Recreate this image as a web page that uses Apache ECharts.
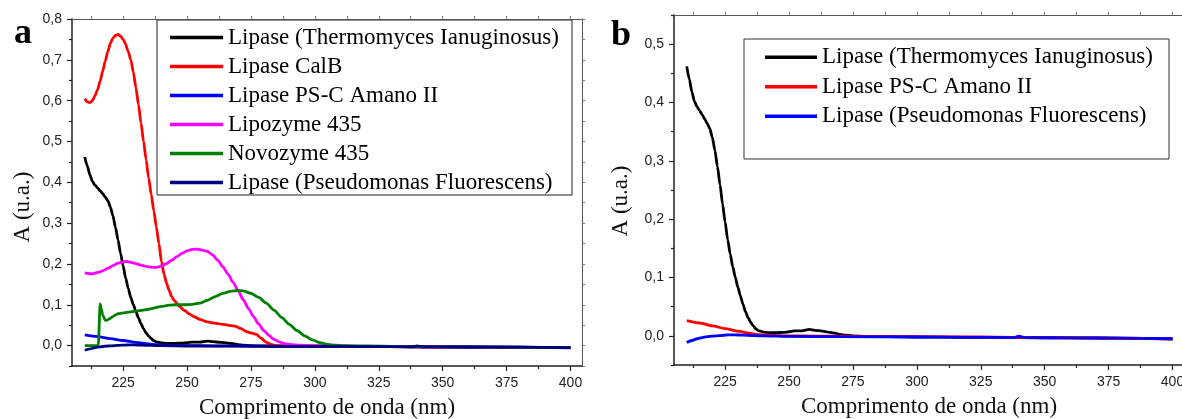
<!DOCTYPE html>
<html>
<head>
<meta charset="utf-8">
<script src="https://cdn.jsdelivr.net/npm/echarts@6/dist/echarts.min.js"></script>
<style>
html, body { margin: 0; background: #fff; }
#chart { width: 1182px; height: 419px; }
</style>
</head>
<body>
<div id="chart"></div>
<script>
// Lipase (Thermomyces Ianuginosus)
const tlNm = [210, 211, 212, 213, 214, 215, 216, 217, 218, 219, 220, 221, 222, 223, 224, 225, 226, 227, 228, 229, 230, 231, 232, 233, 234, 235, 236, 237, 238, 240, 242, 245, 248, 250, 252, 255, 258, 260, 263, 266, 268, 270, 272, 275, 280, 290, 300, 320, 340, 360, 380, 400]
const tlA = [0.462, 0.44, 0.418, 0.402, 0.393, 0.386, 0.379, 0.372, 0.364, 0.355, 0.34, 0.318, 0.29, 0.259, 0.226, 0.195, 0.165, 0.14, 0.118, 0.1, 0.083, 0.068, 0.054, 0.041, 0.031, 0.023, 0.017, 0.012, 0.009, 0.0065, 0.0055, 0.0055, 0.006, 0.007, 0.0085, 0.0085, 0.011, 0.0095, 0.008, 0.006, 0.0045, 0.0025, 0.0012, 0, -0.001, -0.0015, -0.002, -0.0025, -0.003, -0.0035, -0.004, -0.005]

// Lipase CalB
const calbNm = [210, 211, 212, 213, 214, 215, 216, 217, 218, 219, 220, 221, 222, 223, 224, 225, 226, 227, 228, 229, 230, 231, 232, 233, 234, 235, 236, 237, 238, 239, 240, 241, 242, 243, 244, 245, 247, 249, 251, 253, 255, 258, 261, 264, 267, 269, 271, 273, 275, 277, 279, 281, 283, 285, 290, 300, 320, 340, 360, 380, 400]
const calbA = [0.605, 0.597, 0.595, 0.6, 0.612, 0.627, 0.648, 0.672, 0.697, 0.72, 0.74, 0.753, 0.76, 0.762, 0.758, 0.75, 0.738, 0.72, 0.7, 0.67, 0.632, 0.59, 0.545, 0.5, 0.455, 0.41, 0.37, 0.33, 0.29, 0.25, 0.205, 0.175, 0.153, 0.135, 0.12, 0.11, 0.096, 0.086, 0.077, 0.07, 0.064, 0.058, 0.055, 0.052, 0.049, 0.047, 0.042, 0.035, 0.031, 0.028, 0.018, 0.008, 0.002, 0, -0.001, -0.0015, -0.0025, -0.003, -0.004, -0.0045, -0.005]

// Lipozyme 435
const lipozymeNm = [210, 212, 213, 215, 217, 219, 221, 223, 225, 226, 228, 230, 232, 234, 236, 238, 240, 242, 244, 246, 248, 250, 252, 254, 256, 258, 260, 262, 264, 266, 268, 270, 272, 274, 276, 278, 280, 282, 284, 286, 288, 290, 294, 300, 320, 340, 360, 380, 400]
const lipozymeA = [0.178, 0.176, 0.176, 0.179, 0.183, 0.189, 0.196, 0.202, 0.205, 0.206, 0.204, 0.201, 0.197, 0.194, 0.192, 0.1915, 0.195, 0.201, 0.209, 0.218, 0.226, 0.232, 0.2355, 0.2365, 0.234, 0.2305, 0.222, 0.209, 0.193, 0.175, 0.155, 0.134, 0.112, 0.091, 0.071, 0.053, 0.037, 0.025, 0.015, 0.009, 0.005, 0.003, 0.001, 0, -0.002, -0.003, -0.0035, -0.0045, -0.005]

// Novozyme 435
const novozymeNm = [210, 215, 215.3, 216, 216.5, 217, 218, 219, 220, 221, 222, 223, 225, 227, 229, 231, 233, 235, 237, 240, 243, 246, 249, 252, 255, 258, 261, 264, 267, 270, 272, 275, 278, 281, 284, 287, 290, 293, 296, 299, 302, 305, 308, 312, 320, 340, 360, 380, 400]
const novozymeA = [0, 0, 0.002, 0.102, 0.09, 0.075, 0.062, 0.063, 0.067, 0.071, 0.075, 0.078, 0.08, 0.082, 0.0835, 0.085, 0.087, 0.089, 0.092, 0.096, 0.099, 0.1, 0.1, 0.101, 0.104, 0.111, 0.12, 0.128, 0.133, 0.135, 0.134, 0.128, 0.118, 0.104, 0.087, 0.069, 0.052, 0.037, 0.024, 0.014, 0.007, 0.003, 0.001, 0, -0.001, -0.003, -0.0035, -0.0045, -0.005]

// Lipase PS-C Amano II
const pscNm = [210, 215, 220, 225, 230, 235, 238, 242, 250, 260, 275, 300, 325, 350, 375, 400]
const pscA = [0.026, 0.022, 0.017, 0.0125, 0.008, 0.004, 0.002, 0.001, 0, -0.0005, -0.001, -0.0015, -0.002, -0.003, -0.004, -0.0055]

// Lipase (Pseudomonas Fluorescens)
const pfNm = [210, 212, 214, 216, 218, 220, 223, 226, 229, 232, 236, 240, 250, 270, 300, 320, 338, 340, 342, 360, 380, 400]
const pfA = [-0.0115, -0.008, -0.005, -0.003, -0.0015, -0.0005, 0.0005, 0.0015, 0.0017, 0.0012, 0.0005, -0.0002, -0.001, -0.0015, -0.002, -0.0025, -0.003, -0.0005, -0.003, -0.0035, -0.004, -0.005]

// ticks
const xMajor = [225, 250, 275, 300, 325, 350, 375, 400]
const xMinor = [212.5, 237.5, 262.5, 287.5, 312.5, 337.5, 362.5, 387.5]
const yMajorA = [0, 0.1, 0.2, 0.3, 0.4, 0.5, 0.6, 0.7, 0.8]
const yMinorA = [-0.05, 0.05, 0.15, 0.25, 0.35, 0.45, 0.55, 0.65, 0.75]
const yMajorB = [0, 0.1, 0.2, 0.3, 0.4, 0.5]
const yMinorB = [-0.05, 0.05, 0.15, 0.25, 0.35, 0.45, 0.55]

const chart = echarts.init(document.getElementById('chart'))

const axisColor = '#222'
const serif = 'Liberation Serif'
const sans = 'Liberation Sans'

function pairs(xs, ys) {
    return xs.map((x, i) => [x, ys[i]])
}

function xAxes(grid) {
    const base = {
        gridIndex: grid, type: 'value', min: 205, max: 404.5,
        splitLine: { show: false }
    }
    return [
        Object.assign({}, base, {
            position: 'bottom',
            axisLine: { onZero: false, lineStyle: { color: axisColor, width: 1.5 } },
            axisTick: { customValues: xMajor, length: 5, lineStyle: { color: axisColor, width: 1.2 } },
            axisLabel: { customValues: xMajor, margin: 10, color: '#222', fontFamily: sans, fontSize: 14 },
            name: 'Comprimento de onda (nm)',
            nameLocation: 'middle',
            nameGap: 30,
            nameTextStyle: { fontFamily: serif, fontSize: 23, color: '#111' }
        }),
        Object.assign({}, base, {
            position: 'bottom',
            axisLine: { show: false, onZero: false },
            axisTick: { customValues: xMinor, length: 3, lineStyle: { color: axisColor, width: 1.2 } },
            axisLabel: { show: false }
        }),
        Object.assign({}, base, {
            position: 'top',
            axisLine: { onZero: false, lineStyle: { color: '#555', width: 1 } },
            axisTick: { customValues: xMajor.concat(xMinor), length: 3, lineStyle: { color: '#777' } },
            axisLabel: { show: false }
        })
    ]
}

function yAxes(grid, max, major, minor) {
    const base = {
        gridIndex: grid, type: 'value', min: -0.05, max: max,
        splitLine: { show: false }
    }
    return [
        Object.assign({}, base, {
            position: 'left',
            axisLine: { onZero: false, lineStyle: { color: axisColor, width: 1.5 } },
            axisTick: { customValues: major, length: 5, lineStyle: { color: axisColor, width: 1.2 } },
            axisLabel: {
                customValues: major, margin: 10, color: '#222', fontFamily: sans, fontSize: 14,
                formatter: v => v.toFixed(1).replace('.', ',')
            }
        }),
        Object.assign({}, base, {
            position: 'left',
            axisLine: { show: false, onZero: false },
            axisTick: { customValues: minor, length: 3, lineStyle: { color: axisColor, width: 1.2 } },
            axisLabel: { show: false }
        }),
        Object.assign({}, base, {
            position: 'right',
            axisLine: { onZero: false, lineStyle: { color: '#555', width: 1 } },
            axisTick: { customValues: major.concat(minor), length: 3, lineStyle: { color: '#777' } },
            axisLabel: { show: false }
        })
    ]
}

function line(name, xs, ys, color, axis) {
    return {
        name: name,
        type: 'line',
        xAxisIndex: axis,
        yAxisIndex: axis,
        data: pairs(xs, ys),
        showSymbol: false,
        smooth: 0.25,
        smoothMonotone: 'x',
        lineStyle: { color: color, width: 2.8 },
        itemStyle: { color: color },
        emphasis: { disabled: true }
    }
}

const legendText = { fontFamily: serif, fontSize: 23, color: '#000' }

const option = {
    animation: false,
    grid: [
        { left: 72, top: 19, width: 510, height: 347, containLabel: false, outerBoundsMode: 'none' },
        { left: 674, top: 15, width: 510, height: 350, containLabel: false, outerBoundsMode: 'none' }
    ],
    xAxis: xAxes(0).concat(xAxes(1)),
    yAxis: yAxes(0, 0.8, yMajorA, yMinorA).concat(yAxes(1, 0.55, yMajorB, yMinorB)),
    legend: [
        {
            data: ['Lipase (Thermomyces Ianuginosus)', 'Lipase CalB', 'Lipase PS-C Amano II',
                'Lipozyme 435', 'Novozyme 435', 'Lipase (Pseudomonas Fluorescens)'],
            orient: 'vertical', left: 170, top: 23, padding: 0, itemGap: 0,
            icon: 'rect', itemWidth: 53, itemHeight: 3.5,
            textStyle: Object.assign({ lineHeight: 29 }, legendText),
            selectedMode: false
        },
        {
            data: ['b Lipase (Thermomyces Ianuginosus)', 'b Lipase PS-C Amano II', 'b Lipase (Pseudomonas Fluorescens)'],
            formatter: name => name.slice(2),
            orient: 'vertical', left: 765, top: 42.5, padding: 0, itemGap: 0,
            icon: 'rect', itemWidth: 52, itemHeight: 3.5,
            textStyle: Object.assign({ lineHeight: 29.5 }, legendText),
            selectedMode: false
        }
    ],
    graphic: [
        { type: 'rect', shape: { x: 157, y: 20, width: 415, height: 175 }, style: { fill: 'none', stroke: '#222', lineWidth: 1 } },
        { type: 'rect', shape: { x: 744, y: 39, width: 425, height: 120 }, style: { fill: 'none', stroke: '#333', lineWidth: 1 } },
        { type: 'text', x: 14, y: 34, style: { text: 'a', font: 'bold 36px "Liberation Serif"', fill: '#000', verticalAlign: 'middle', textVerticalAlign: 'middle' } },
        { type: 'text', x: 611, y: 36, style: { text: 'b', font: 'bold 36px "Liberation Serif"', fill: '#000', verticalAlign: 'middle', textVerticalAlign: 'middle' } },
        { type: 'text', x: 23, y: 207, rotation: Math.PI / 2, style: { text: 'A (u.a.)', font: '23px "Liberation Serif"', fill: '#111', align: 'center', textAlign: 'center', verticalAlign: 'middle', textVerticalAlign: 'middle' } },
        { type: 'text', x: 621, y: 201, rotation: Math.PI / 2, style: { text: 'A (u.a.)', font: '23px "Liberation Serif"', fill: '#111', align: 'center', textAlign: 'center', verticalAlign: 'middle', textVerticalAlign: 'middle' } }
    ],
    series: [
        line('Lipase (Thermomyces Ianuginosus)', tlNm, tlA, '#000000', 0),
        line('Lipase CalB', calbNm, calbA, '#ff0000', 0),
        line('Lipase PS-C Amano II', pscNm, pscA, '#0000ff', 0),
        line('Lipozyme 435', lipozymeNm, lipozymeA, '#ff00ff', 0),
        line('Novozyme 435', novozymeNm, novozymeA, '#008000', 0),
        line('Lipase (Pseudomonas Fluorescens)', pfNm, pfA, '#000080', 0),
        line('b Lipase (Thermomyces Ianuginosus)', tlNm, tlA, '#000000', 3),
        line('b Lipase PS-C Amano II', pscNm, pscA, '#ff0000', 3),
        line('b Lipase (Pseudomonas Fluorescens)', pfNm, pfA, '#0000ff', 3)
    ]
}

chart.setOption(option)
</script>
</body>
</html>
